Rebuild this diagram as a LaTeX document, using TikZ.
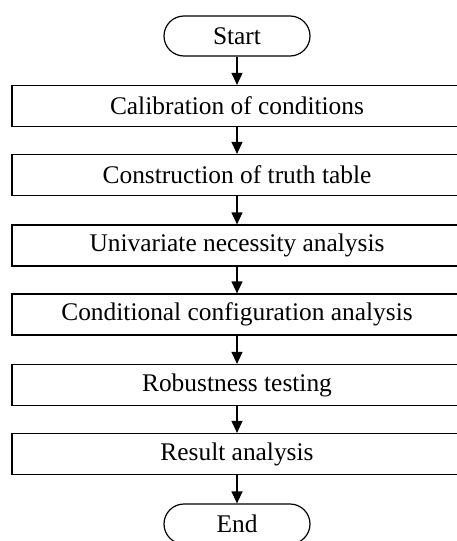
\documentclass[tikz,border=0pt]{standalone}
\usepackage{fontspec}
\setmainfont{Liberation Serif}
\usetikzlibrary{arrows.meta}
\begin{document}
\begin{tikzpicture}[x=1pt,y=-1pt,
  stepbox/.style={draw,line width=1.2pt,minimum width=450pt,minimum height=41pt,inner sep=0pt,font=\fontsize{25.4}{30}\selectfont},
  termbox/.style={draw,line width=1.2pt,rounded corners=20pt,minimum width=146pt,minimum height=40pt,inner sep=0pt,font=\fontsize{25.4}{30}\selectfont},
  flow/.style={line width=1.2pt,-{Triangle[length=12pt,width=11pt]}}]
\useasboundingbox (0,0) rectangle (457,541);
\clip (0,0) rectangle (457,541);
\node[termbox] (s) at (237,36) {Start};
\node[stepbox] (b1) at (237,106) {Calibration of conditions};
\node[stepbox] (b2) at (237,175) {Construction of truth table};
\node[stepbox] (b3) at (237,245.5) {Univariate necessity analysis};
\node[stepbox] (b4) at (237,314.5) {Conditional configuration analysis};
\node[stepbox] (b5) at (237,385) {Robustness testing};
\node[stepbox] (b6) at (237,454) {Result analysis};
\node[termbox] (e) at (237,524) {End};
\draw[flow] (s) -- (b1);
\draw[flow] (b1) -- (b2);
\draw[flow] (b2) -- (b3);
\draw[flow] (b3) -- (b4);
\draw[flow] (b4) -- (b5);
\draw[flow] (b5) -- (b6);
\draw[flow] (b6) -- (e);
\end{tikzpicture}
\end{document}
